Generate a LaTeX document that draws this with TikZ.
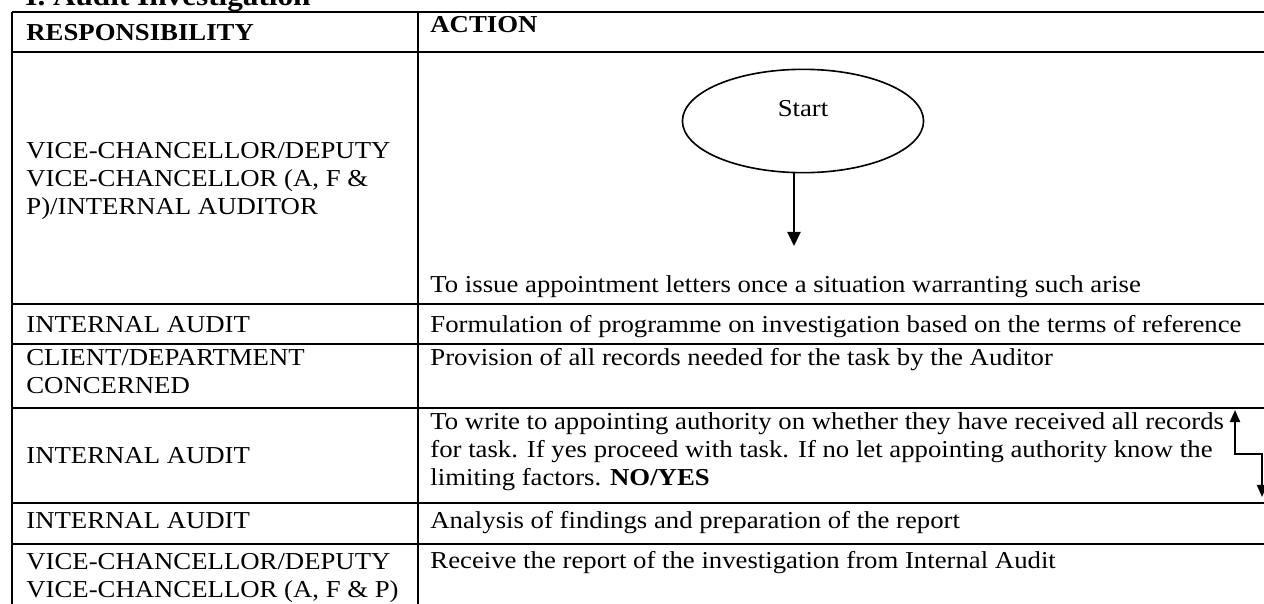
\documentclass[tikz,border=0pt]{standalone}
\usepackage{fontspec}
\setmainfont[FakeStretch=1.1]{Liberation Serif}
\usetikzlibrary{shapes.geometric,arrows.meta}

\tikzset{
  cell/.style={anchor=base west,inner sep=0pt,align=left,font=\fontsize{12}{13.8}\selectfont},
  hcell/.style={cell,font=\fontsize{12}{13.8}\selectfont\bfseries},
  rule/.style={line width=1pt},
  flow/.style={line width=1pt,-{Triangle[length=7pt,width=6.5pt]}},
  loop/.style={line width=1pt,{Triangle[length=6pt,width=5pt]}-{Triangle[length=6pt,width=5pt]}},
}

\begin{document}
\begin{tikzpicture}[x=0.4935pt,y=-0.4935pt]
   \useasboundingbox (0,0) rectangle (1264,603);

   % table rules
   \draw[rule,line width=1.3pt] (12,12) -- (1280,12);
   \draw[rule,line width=1.3pt] (12,12) -- (12,620);
   \draw[rule] (418,12) -- (418,620);
   \foreach \y in {52,304,344,408,503,544}
      \draw[rule] (12,\y) -- (1280,\y);

   \node[hcell,font=\fontsize{14}{16}\selectfont\bfseries] (title) at (25,5) {I. Audit Investigation};
   \node[hcell] (resp) at (26,40) {RESPONSIBILITY};
   \node[hcell] (act) at (430,32) {ACTION};

   % row 1 (multi-line cells sit on their last baseline)
   \node[cell] (who1) at (26,214) {VICE-CHANCELLOR/DEPUTY\\VICE-CHANCELLOR (A, F \&\\P)/INTERNAL AUDITOR};
   \node[draw,ellipse,line width=0.8pt,minimum width=119pt,minimum height=51pt,
         label={[font=\fontsize{12}{13.8}\selectfont,yshift=6pt]center:Start}] (start) at (803,121) {};
   \coordinate (issue) at (794,246);
   \draw[flow] (start.south -| issue) -- (issue);
   \node[cell] (do1) at (430,292) {To issue appointment letters once a situation warranting such arise};

   % row 2
   \node[cell] (who2) at (26,332) {INTERNAL AUDIT};
   \node[cell] (do2) at (430,332) {Formulation of programme on investigation based on the terms of reference};

   % row 3
   \node[cell] (who3) at (26,393) {CLIENT/DEPARTMENT\\CONCERNED};
   \node[cell] (do3) at (430,365) {Provision of all records needed for the task by the Auditor};

   % row 4
   \node[cell] (who4) at (26,463) {INTERNAL AUDIT};
   \node[cell] (do4) at (430,485) {To write to appointing authority on whether they have received all records\\for task. If yes proceed with task. If no let appointing authority know the\\limiting factors. \textbf{NO/YES}};
   \coordinate (yes) at (1235,410);
   \coordinate (no) at (1262,497);
   \draw[loop] (yes) -- (1235,454) -| (no);

   % row 5
   \node[cell] (who5) at (26,528) {INTERNAL AUDIT};
   \node[cell] (do5) at (430,528) {Analysis of findings and preparation of the report};

   % row 6
   \node[cell] (who6) at (26,597) {VICE-CHANCELLOR/DEPUTY\\VICE-CHANCELLOR (A, F \& P)};
   \node[cell] (do6) at (430,568) {Receive the report of the investigation from Internal Audit};
\end{tikzpicture}
\end{document}
